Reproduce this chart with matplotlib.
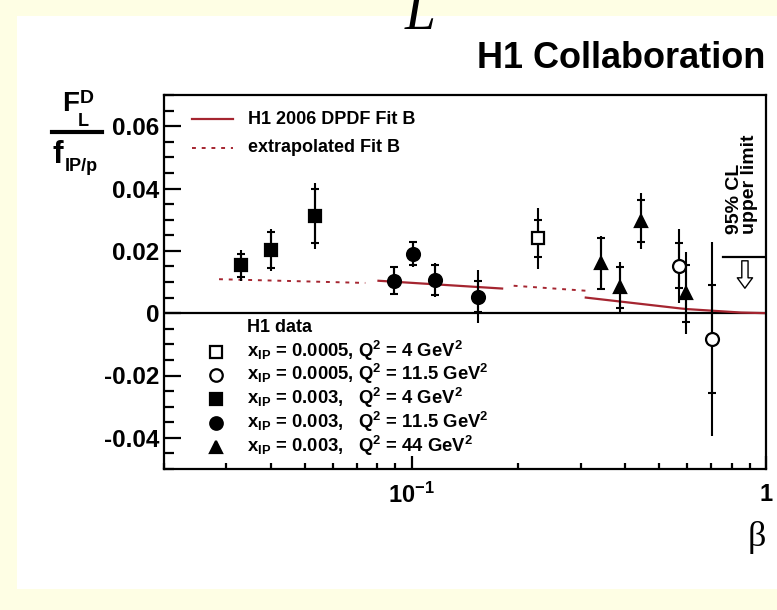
import numpy as np
import matplotlib
matplotlib.use('Agg')
import matplotlib.pyplot as plt
from matplotlib.ticker import MultipleLocator, FixedLocator, NullFormatter
from matplotlib.patches import Rectangle
from matplotlib.lines import Line2D

plt.rcParams['font.family'] = ['Liberation Sans', 'DejaVu Sans']
plt.rcParams['font.weight'] = 'bold'
plt.rcParams['mathtext.fontset'] = 'custom'
plt.rcParams['mathtext.rm'] = 'Liberation Sans:bold'
plt.rcParams['mathtext.it'] = 'Liberation Sans:bold'
plt.rcParams['mathtext.bf'] = 'Liberation Sans:bold'
plt.rcParams['mathtext.default'] = 'rm'

# x_IP = 0.003, Q2 = 4 GeV2 (filled squares)
beta_sq = [0.033, 0.040, 0.0533]
fl_sq = [0.0153, 0.0202, 0.0312]
stat_sq = [0.0038, 0.0058, 0.0086]
tot_sq = [0.0049, 0.0068, 0.0106]

# x_IP = 0.003, Q2 = 11.5 GeV2 (filled circles)
beta_ci = [0.089, 0.1006, 0.116, 0.154]
fl_ci = [0.0104, 0.0190, 0.0106, 0.0053]
stat_ci = [0.0043, 0.0037, 0.0049, 0.0049]
tot_ci = [0.0047, 0.0041, 0.0054, 0.0086]

# x_IP = 0.0005, Q2 = 4 GeV2 (open square)
beta_osq = [0.228]
fl_osq = [0.0240]
stat_osq = [0.0060]
tot_osq = [0.0099]

# x_IP = 0.0005, Q2 = 11.5 GeV2 (open circles)
beta_oci = [0.570, 0.706]
fl_oci = [0.0152, -0.0083]
stat_oci = [0.0072, 0.0174]
tot_oci = [0.0118, 0.0312]

# x_IP = 0.003, Q2 = 44 GeV2 (triangles)
beta_tr = [0.342, 0.387, 0.445, 0.595]
fl_tr = [0.0160, 0.0083, 0.0296, 0.0064]
stat_tr = [0.0081, 0.0065, 0.0068, 0.0091]
tot_tr = [0.0087, 0.0081, 0.0091, 0.0131]

# H1 2006 DPDF Fit B, solid where fitted, dotted where extrapolated
fit_b1 = [0.0806, 0.18]
fit_f1 = [0.0104, 0.0079]
fit_b2 = [0.31, 0.575, 0.60, 0.85, 1.0]
fit_f2 = [0.0050, 0.0015, 0.0013, 0.0002, 0.0]
ext_b1 = [0.0286, 0.074]
ext_f1 = [0.0109, 0.0097]
ext_b2 = [0.194, 0.31]
ext_f2 = [0.0088, 0.0072]

# 95% CL upper limit
ul_beta = [0.755, 1.0]
ul_val = 0.0179

yticks = [-0.04, -0.02, 0, 0.02, 0.04, 0.06]
ylabels = ['-0.04', '-0.02', '0', '0.02', '0.04', '0.06']

leg_markers = ['s', 'o', 's', 'o', '^']
leg_filled = [False, False, True, True, True]
leg_texts = [r'x$_{IP}$ = 0.0005, Q$^{2}$ = 4 GeV$^{2}$',
             r'x$_{IP}$ = 0.0005, Q$^{2}$ = 11.5 GeV$^{2}$',
             r'x$_{IP}$ = 0.003,   Q$^{2}$ = 4 GeV$^{2}$',
             r'x$_{IP}$ = 0.003,   Q$^{2}$ = 11.5 GeV$^{2}$',
             r'x$_{IP}$ = 0.003,   Q$^{2}$ = 44 GeV$^{2}$']

W, H = 777, 610
RED = '#a52530'


def fp(x, y):
    # pixel position -> figure fraction
    return x / W, 1 - y / H


def draw(ax, b, f, st, tot, marker, filled):
    ax.errorbar(b, f, yerr=tot, fmt='none', ecolor='k', elinewidth=1.5, capsize=0, zorder=3)
    ax.errorbar(b, f, yerr=st, fmt='none', ecolor='k', elinewidth=1.5,
                capsize=3.2, capthick=1.5, zorder=3)
    ax.plot(b, f, ls='none', marker=marker, ms=9.3, mfc='k' if filled else 'white',
            mec='k', mew=1.6, zorder=4)


fig = plt.figure(figsize=(W / 100, H / 100), dpi=100)
fig.patch.set_facecolor('#fefee4')
fig.patches.append(Rectangle(fp(17, 589), (W - 17) / W, (589 - 16) / H,
                             transform=fig.transFigure, fc='white', ec='none', zorder=-1))

x0, y0 = fp(164, 469)
x1, y1 = fp(766, 95)
ax = fig.add_axes([x0, y0, x1 - x0, y1 - y0])
ax.set_xscale('log')
ax.set_xlim(0.02, 1.0)
ax.set_ylim(-0.05, 0.07)

ax.axhline(0, color='k', lw=1.6, zorder=2)

ax.plot(fit_b1, fit_f1, color=RED, lw=1.6, zorder=2)
ax.plot(fit_b2, fit_f2, color=RED, lw=1.6, zorder=2)
ax.plot(ext_b1, ext_f1, color=RED, lw=1.4, ls=(0, (2, 3)), zorder=2)
ax.plot(ext_b2, ext_f2, color=RED, lw=1.4, ls=(0, (2, 3)), zorder=2)

draw(ax, beta_sq, fl_sq, stat_sq, tot_sq, 's', True)
draw(ax, beta_ci, fl_ci, stat_ci, tot_ci, 'o', True)
draw(ax, beta_osq, fl_osq, stat_osq, tot_osq, 's', False)
draw(ax, beta_oci, fl_oci, stat_oci, tot_oci, 'o', False)
draw(ax, beta_tr, fl_tr, stat_tr, tot_tr, '^', True)

# upper limit with hollow arrow
ax.plot(ul_beta, [ul_val, ul_val], color='k', lw=1.6, zorder=3)
ax.annotate('', xy=(0.872, 0.0080), xytext=(0.872, 0.0168),
            arrowprops=dict(arrowstyle='simple,head_length=0.75,head_width=1.1,tail_width=0.45',
                            mutation_scale=10, fc='white', ec='k', lw=1.0,
                            shrinkA=0, shrinkB=0))

for s in ax.spines.values():
    s.set_linewidth(1.6)

ax.yaxis.set_major_locator(FixedLocator(yticks))
ax.set_yticklabels(ylabels, fontsize=17.5, fontweight='bold')
ax.yaxis.set_minor_locator(MultipleLocator(0.005))
ax.xaxis.set_major_locator(FixedLocator([0.1, 1.0]))
ax.set_xticklabels([r'$10^{-1}$', '1'], fontsize=17)
ax.xaxis.set_minor_locator(FixedLocator([0.02 + 0.01 * i for i in range(8)] +
                                        [0.1 * i for i in range(2, 10)]))
ax.xaxis.set_minor_formatter(NullFormatter())
ax.tick_params(axis='y', which='major', direction='in', length=12, width=1.6, pad=3.5)
ax.tick_params(axis='y', which='minor', direction='in', length=7, width=1.6)
ax.tick_params(axis='x', which='major', direction='in', length=9.5, width=1.6, pad=10)
ax.tick_params(axis='x', which='minor', direction='in', length=4.5, width=1.6)

# legend for fits
fig.add_artist(Line2D([192 / W, 233 / W], [1 - 119 / H, 1 - 119 / H], color=RED, lw=1.6))
fig.add_artist(Line2D([192 / W, 233 / W], [1 - 148 / H, 1 - 148 / H], color=RED, lw=1.4,
                      ls=(0, (2, 3))))
fig.text(*fp(248, 119), 'H1 2006 DPDF Fit B', fontsize=13, va='center', ha='left')
fig.text(*fp(248, 148), 'extrapolated Fit B', fontsize=13, va='center', ha='left')

# legend for data
fig.text(*fp(247, 327), 'H1 data', fontsize=13, va='center', ha='left')
rows = [352, 375, 399, 423, 447]
for r, m, fl, t in zip(rows, leg_markers, leg_filled, leg_texts):
    fig.add_artist(Line2D([215.7 / W], [1 - r / H], ls='none', marker=m, ms=9,
                          mfc='k' if fl else 'white', mec='k', mew=1.6))
    fig.text(*fp(247, r + 5), t, fontsize=13.3, va='baseline', ha='left')

# upper limit label
fig.text(*fp(742, 234), '95% CL\nupper limit', rotation=90, fontsize=14,
         ha='center', va='bottom', multialignment='left', linespacing=0.8)

# y label as fraction
fig.text(*fp(62, 111), 'F', fontsize=20, ha='left', va='baseline')
fig.text(*fp(80, 103), 'D', fontsize=14, ha='left', va='baseline')
fig.text(*fp(78, 126), 'L', fontsize=13, ha='left', va='baseline')
fig.add_artist(Line2D([52 / W, 102 / W], [1 - 132 / H, 1 - 132 / H], color='k', lw=3))
fig.text(*fp(53, 163), 'f', fontsize=23, ha='left', va='baseline')
fig.text(*fp(65, 171), 'IP/p', fontsize=13, ha='left', va='baseline')

# title and axis label
fig.text(*fp(765, 58.5), 'H1 Collaboration', fontsize=26, ha='right', va='center')
fig.text(*fp(757, 537), 'β', fontsize=26, fontweight='normal',
         family=['Liberation Serif', 'DejaVu Serif'], ha='center', va='center')
fig.text(*fp(405, 29), 'L', fontsize=40, fontweight='normal', style='italic',
         family=['Liberation Serif', 'DejaVu Serif'], ha='left', va='baseline')

fig.savefig('out.png', dpi=100, facecolor=fig.get_facecolor())
